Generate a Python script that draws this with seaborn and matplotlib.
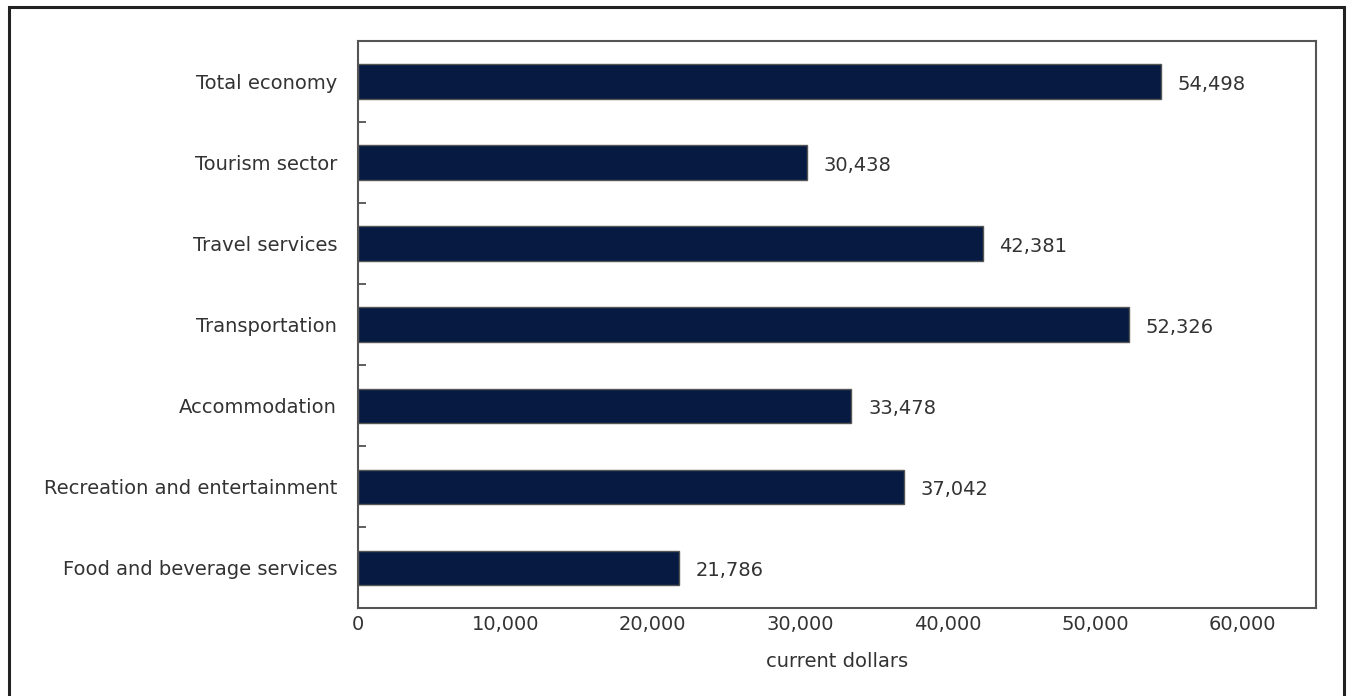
import matplotlib
matplotlib.use("Agg")
import matplotlib.pyplot as plt
from matplotlib.patches import Rectangle
from matplotlib.ticker import FixedLocator, FuncFormatter
import pandas as pd
import seaborn as sns

categories = [
    "Total economy",
    "Tourism sector",
    "Travel services",
    "Transportation",
    "Accommodation",
    "Recreation and entertainment",
    "Food and beverage services",
]
values = [54498, 30438, 42381, 52326, 33478, 37042, 21786]
x_ticks = [0, 10000, 20000, 30000, 40000, 50000, 60000]
x_label = "current dollars"

df = pd.DataFrame({"category": categories, "value": values})

sns.set_style("white")
plt.rcParams["font.family"] = ["DejaVu Sans"]
text_color = "#333333"
bar_color = "#061a42"
font_size = 14

fig = plt.figure(figsize=(13.51, 6.96), dpi=100)
ax = fig.add_axes([0.265, 0.1264, 0.709, 0.8147])

sns.barplot(data=df, x="value", y="category", orient="h", color=bar_color,
            width=0.42, edgecolor="#555555", linewidth=1.0, saturation=1,
            ax=ax)

ax.set_xlim(0, 65000)
ax.set_ylim(len(categories) - 0.5, -0.5)
ax.xaxis.set_major_locator(FixedLocator(x_ticks))
ax.xaxis.set_major_formatter(FuncFormatter(lambda v, p: f"{int(v):,}"))
ax.tick_params(axis="x", length=0, pad=5, labelsize=font_size, labelcolor=text_color)
ax.tick_params(axis="y", which="major", length=0, pad=15, labelsize=font_size,
               labelcolor=text_color)
# small inward ticks separating the categories
ax.yaxis.set_minor_locator(FixedLocator([i + 0.5 for i in range(len(categories) - 1)]))
ax.tick_params(axis="y", which="minor", direction="in", length=6, width=1.2,
               color="#444444", left=True)
ax.set_xlabel(x_label, fontsize=font_size, color=text_color, labelpad=13)
ax.set_ylabel("")

for spine in ax.spines.values():
    spine.set_visible(True)
    spine.set_color("#555555")
    spine.set_linewidth(1.5)

for i, v in enumerate(values):
    ax.annotate(f"{v:,}", xy=(v, i), xytext=(12, -2.5), textcoords="offset points",
                ha="left", va="center", fontsize=font_size, color=text_color)

fig.patches.append(Rectangle((9 / 1351, -0.05), 1335 / 1351, 1 - 7 / 696 + 0.05,
                             transform=fig.transFigure, fill=False,
                             edgecolor="#222222", linewidth=2.2, clip_on=False))

fig.savefig("out.png", dpi=100)
